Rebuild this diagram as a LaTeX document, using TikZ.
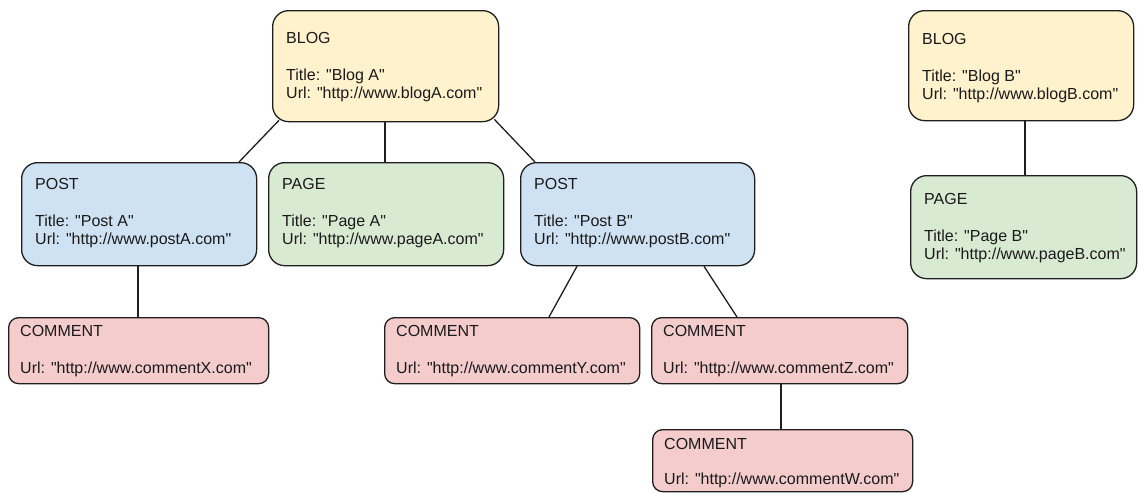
\documentclass[tikz,border=0pt]{standalone}
\usepackage{fontspec}
\newfontfamily\boxfont{Liberation Sans}
\usetikzlibrary{calc}

\definecolor{blogfill}{HTML}{FFF2CC}
\definecolor{postfill}{HTML}{CFE2F3}
\definecolor{pagefill}{HTML}{D9EAD3}
\definecolor{commentfill}{HTML}{F4CCCC}
\definecolor{edge}{HTML}{1F1F1F}
\definecolor{ink}{HTML}{1A1A1A}

\tikzset{
  entity/.style={draw=edge, line width=1.3pt, rectangle, inner sep=0pt,
    anchor=north west},
  bigbox/.style={entity, rounded corners=16pt},
  smallbox/.style={entity, rounded corners=10pt},
  blog/.style={bigbox, fill=blogfill},
  post/.style={bigbox, fill=postfill},
  page/.style={bigbox, fill=pagefill},
  comment/.style={smallbox, fill=commentfill},
  txt/.style={anchor=base west, inner sep=0pt, text=ink,
    font=\boxfont\fontsize{16pt}{18pt}\selectfont},
  link/.style={draw=edge, line width=1.3pt}
}

\begin{document}
\begin{tikzpicture}[x=1pt, y=-1pt]
\useasboundingbox (0,0) rectangle (1138,493);

% ---- boxes ----
\node[blog, minimum width=226pt, minimum height=111pt] (blogA) at (272,10) {};
\node[post, minimum width=235pt, minimum height=103pt] (postA) at (21,162) {};
\node[page, minimum width=235pt, minimum height=103pt] (pageA) at (268,162) {};
\node[post, minimum width=234pt, minimum height=103pt] (postB) at (520,162) {};
\node[comment, minimum width=260pt, minimum height=66pt] (comX) at (8,317) {};
\node[comment, minimum width=255pt, minimum height=66pt] (comY) at (384,317) {};
\node[comment, minimum width=256pt, minimum height=66pt] (comZ) at (651,317) {};
\node[comment, minimum width=260pt, minimum height=62pt] (comW) at (652,429) {};
\node[blog, minimum width=225pt, minimum height=110pt] (blogB) at (908,10) {};
\node[page, minimum width=226pt, minimum height=103pt] (pageB) at (910,175) {};

% ---- texts ----
\node[txt] (blogA-h) at (286,43) {BLOG};
\node[txt] (blogA-t) at (286,80) {Title: "Blog A"};
\node[txt] (blogA-u) at (286,98) {Url: "http://www.blogA.com"};

\node[txt] (postA-h) at (35,189) {POST};
\node[txt] (postA-t) at (35,226) {Title: "Post A"};
\node[txt] (postA-u) at (35,244) {Url: "http://www.postA.com"};

\node[txt] (pageA-h) at (282,189) {PAGE};
\node[txt] (pageA-t) at (282,226) {Title: "Page A"};
\node[txt] (pageA-u) at (282,244) {Url: "http://www.pageA.com"};

\node[txt] (postB-h) at (534,189) {POST};
\node[txt] (postB-t) at (534,226) {Title: "Post B"};
\node[txt] (postB-u) at (534,244) {Url: "http://www.postB.com"};

\node[txt] (comX-h) at (20,336) {COMMENT};
\node[txt] (comX-u) at (20,373) {Url: "http://www.commentX.com"};

\node[txt] (comY-h) at (396,336) {COMMENT};
\node[txt] (comY-u) at (396,373) {Url: "http://www.commentY.com"};

\node[txt] (comZ-h) at (663,336) {COMMENT};
\node[txt] (comZ-u) at (663,373) {Url: "http://www.commentZ.com"};

\node[txt] (comW-h) at (664,449) {COMMENT};
\node[txt] (comW-u) at (664,484) {Url: "http://www.commentW.com"};

\node[txt] (blogB-h) at (922,44) {BLOG};
\node[txt] (blogB-t) at (922,81) {Title: "Blog B"};
\node[txt] (blogB-u) at (922,99) {Url: "http://www.blogB.com"};

\node[txt] (pageB-h) at (924,204) {PAGE};
\node[txt] (pageB-t) at (924,241) {Title: "Page B"};
\node[txt] (pageB-u) at (924,259) {Url: "http://www.pageB.com"};

% ---- connectors ----
\draw[link] ($(blogA.south west)+(7,-2)$) -- ($(postA.north west)+(218,0)$);
\draw[link] ($(blogA.south west)+(113,0)$) -- ($(pageA.north west)+(117,0)$);
\draw[link] ($(blogA.south east)+(-5,-3)$) -- ($(postB.north west)+(15,0)$);
\draw[link] ($(postA.south west)+(117,0)$) -- ($(comX.north west)+(130,0)$);
\draw[link] ($(postB.south west)+(57,0)$) -- ($(comY.north west)+(165,0)$);
\draw[link] ($(postB.south west)+(184,0)$) -- ($(comZ.north west)+(86,0)$);
\draw[link] ($(comZ.south west)+(130,0)$) -- ($(comW.north west)+(129,0)$);
\draw[link] ($(blogB.south west)+(117,0)$) -- ($(pageB.north west)+(115,0)$);
\end{tikzpicture}
\end{document}
